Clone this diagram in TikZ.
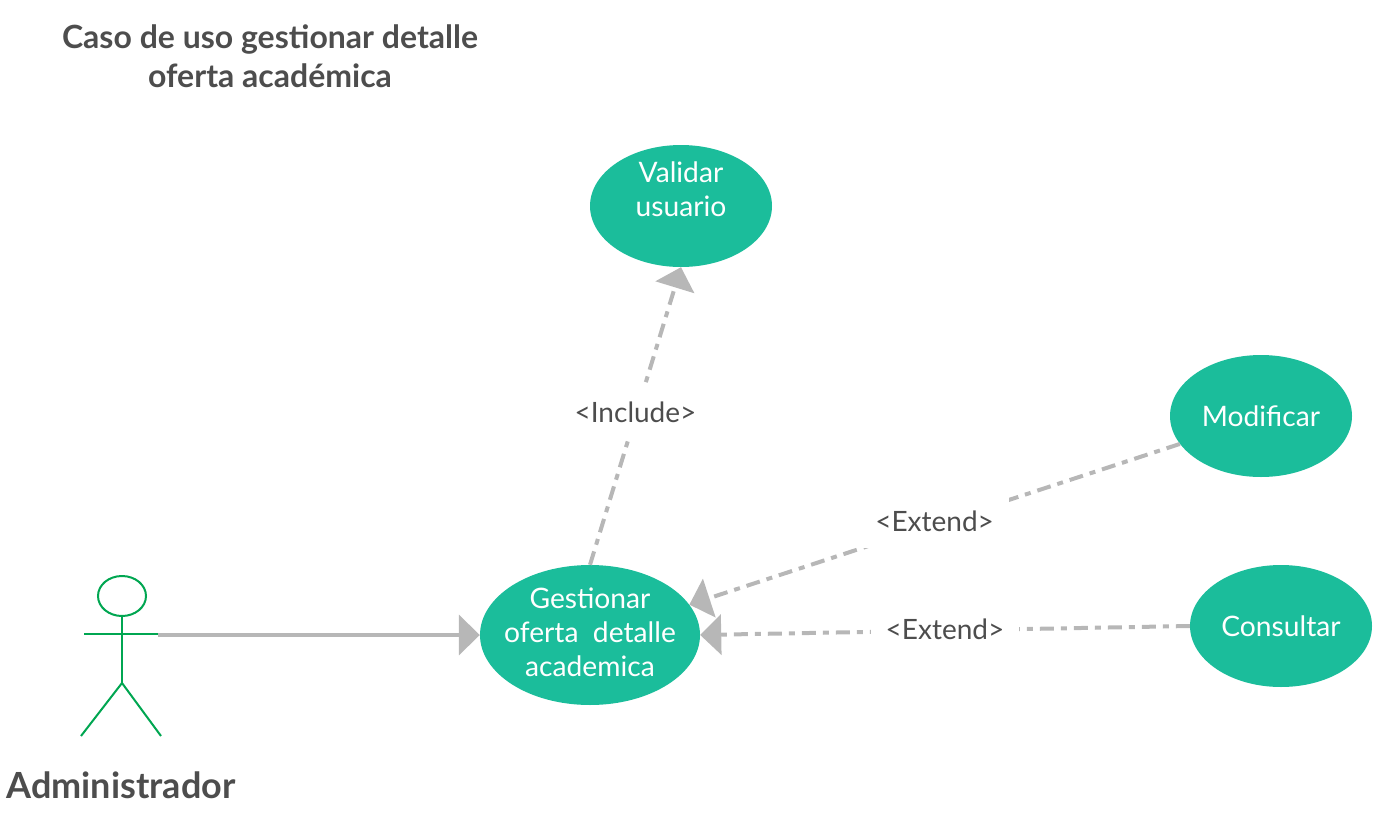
\documentclass[tikz,border=0pt]{standalone}
\usepackage{fontspec}
\setmainfont{Lato}
\usetikzlibrary{shapes.geometric,arrows.meta}
\definecolor{teal}{HTML}{1BBD9B}
\definecolor{actorgreen}{HTML}{00A651}
\definecolor{linegray}{HTML}{B7B7B7}
\definecolor{textgray}{HTML}{4D4D4D}
\tikzset{
  usecase/.style={ellipse,fill=teal,text=white,inner sep=-12pt,align=center,font=\fontsize{28.2}{34}\selectfont},
  dep/.style={draw=linegray,line width=4pt,dash pattern=on 14pt off 7pt on 6pt off 7pt,-{Triangle[length=21pt,width=40pt,fill=linegray]}},
  assoc/.style={draw=linegray,line width=4pt,-{Triangle[length=21pt,width=40pt,fill=linegray]}},
  deplabel/.style={fill=white,text=textgray,inner xsep=15pt,inner ysep=0pt,minimum height=54pt,font=\fontsize{28}{32}\selectfont},
  stick/.style={draw=actorgreen,line width=2pt},
  titletext/.style={text=textgray,align=center,font=\bfseries\fontsize{32}{39}\selectfont}
}
\begin{document}
\begin{tikzpicture}[x=1pt,y=-1pt]
\useasboundingbox (0,0) rectangle (1385,822);
\node[titletext] (title) at (270,56) {Caso de uso gestionar detalle\\oferta académica};
\node[usecase,minimum width=182pt,minimum height=122pt] (val) at (681,206) {Validar\\usuario\\\mbox{}};
\node[usecase,minimum width=182pt,minimum height=122pt] (mod) at (1261,416) {Modificar};
\node[usecase,minimum width=182pt,minimum height=122pt] (cons) at (1281,626) {Consultar};
\node[usecase,minimum width=220pt,minimum height=140pt] (gest) at (590,635) {\raisebox{6pt}{Gestionar}\\\raisebox{6pt}{oferta\ \ detalle}\\\raisebox{6pt}{academica}};
\node[ellipse,stick,minimum width=48pt,minimum height=40pt,inner sep=0pt] (head) at (122,596) {};
\coordinate (hip) at (122,683);
\coordinate (arml) at (84,634);
\coordinate (armr) at (158,634);
\coordinate (legl) at (81,736);
\coordinate (legr) at (161,736);
\coordinate (assocstart) at (158,635);
\draw[stick] (head.south) -- (hip);
\draw[stick] (arml) -- (armr);
\draw[stick] (legl) -- (hip) -- (legr);
\node[text=textgray,font=\bfseries\fontsize{36}{42}\selectfont] (actor) at (121,785) {Administrador};
\draw[assoc] (assocstart) -- (gest.west);
\draw[dep] (gest.north) -- node[deplabel,pos=.5,yshift=3pt] (inc) {\raisebox{2pt}{<Include>}} (val.south);
\draw[dep] (mod.199.7) -- node[deplabel,pos=.5,yshift=3pt] (ext1) {<Extend>} (gest.17);
\draw[dep] (cons.west) -- node[deplabel,pos=.5,yshift=1pt] (ext2) {<Extend>} (gest.east);
\end{tikzpicture}
\end{document}
